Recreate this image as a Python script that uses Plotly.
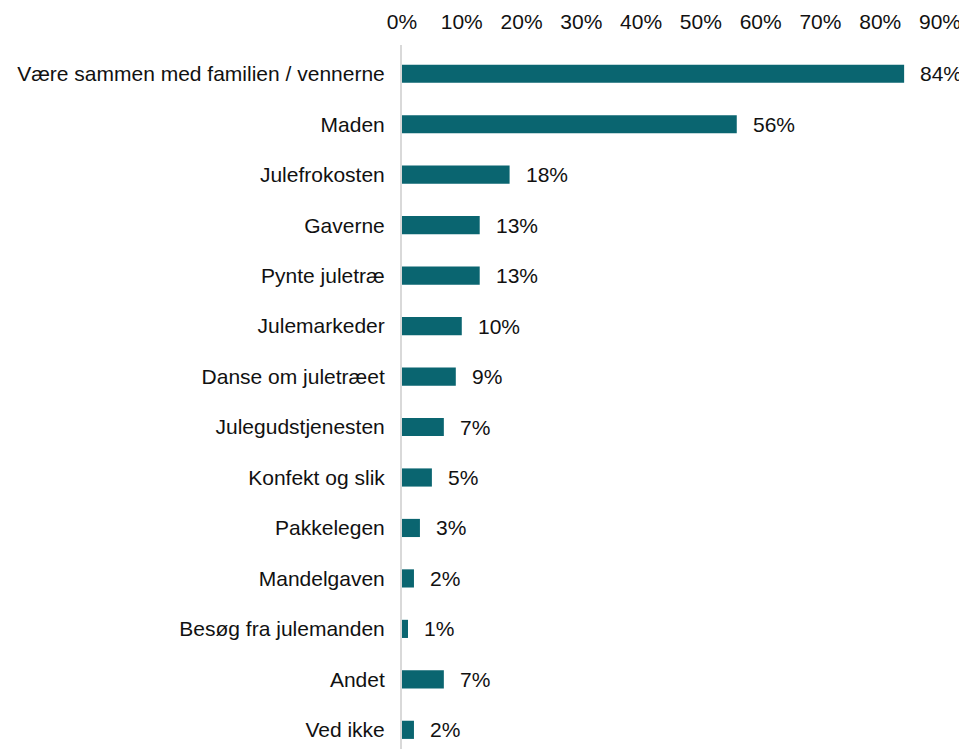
import plotly.graph_objects as go

categories = [
    "Være sammen med familien / vennerne", "Maden", "Julefrokosten", "Gaverne",
    "Pynte juletræ", "Julemarkeder", "Danse om juletræet", "Julegudstjenesten",
    "Konfekt og slik", "Pakkelegen", "Mandelgaven", "Besøg fra julemanden",
    "Andet", "Ved ikke",
]
values = [84, 56, 18, 13, 13, 10, 9, 7, 5, 3, 2, 1, 7, 2]
labels = ["84%", "56%", "18%", "13%", "13%", "10%", "9%", "7%", "5%", "3%", "2%", "1%", "7%", "2%"]
tick_vals = [0, 10, 20, 30, 40, 50, 60, 70, 80, 90]
tick_text = ["0%", "10%", "20%", "30%", "40%", "50%", "60%", "70%", "80%", "90%"]

FONT = "Liberation Sans, Arial, sans-serif"
COLOR = "#0A6570"
TXT = "#111111"

fig = go.Figure()
fig.add_trace(go.Bar(
    y=categories, x=values, orientation="h",
    marker=dict(color=COLOR, line=dict(width=0)),
    width=0.36, hoverinfo="skip",
))

for c, v, t in zip(categories, values, labels):
    fig.add_annotation(x=v, y=c, text=t, showarrow=False, xanchor="left",
                       xshift=14, font=dict(family=FONT, size=21, color=TXT))

fig.update_layout(
    width=959, height=741,
    margin=dict(l=394, r=27, t=37, b=0, autoexpand=False),
    paper_bgcolor="white", plot_bgcolor="white",
    showlegend=False,
    font=dict(family=FONT, size=21, color=TXT),
    xaxis=dict(side="top", range=[0, 90], tickvals=tick_vals, ticktext=tick_text,
               showgrid=False, zeroline=False, showline=False, ticks="",
               ticklabelstandoff=11, fixedrange=True),
    yaxis=dict(categoryorder="array", categoryarray=categories,
               range=[13.38, -0.57], showgrid=False, zeroline=False,
               showline=True, linecolor="#d9d9d9", linewidth=2,
               ticks="", ticklabelstandoff=11, fixedrange=True),
)

fig.write_html("out.html")
